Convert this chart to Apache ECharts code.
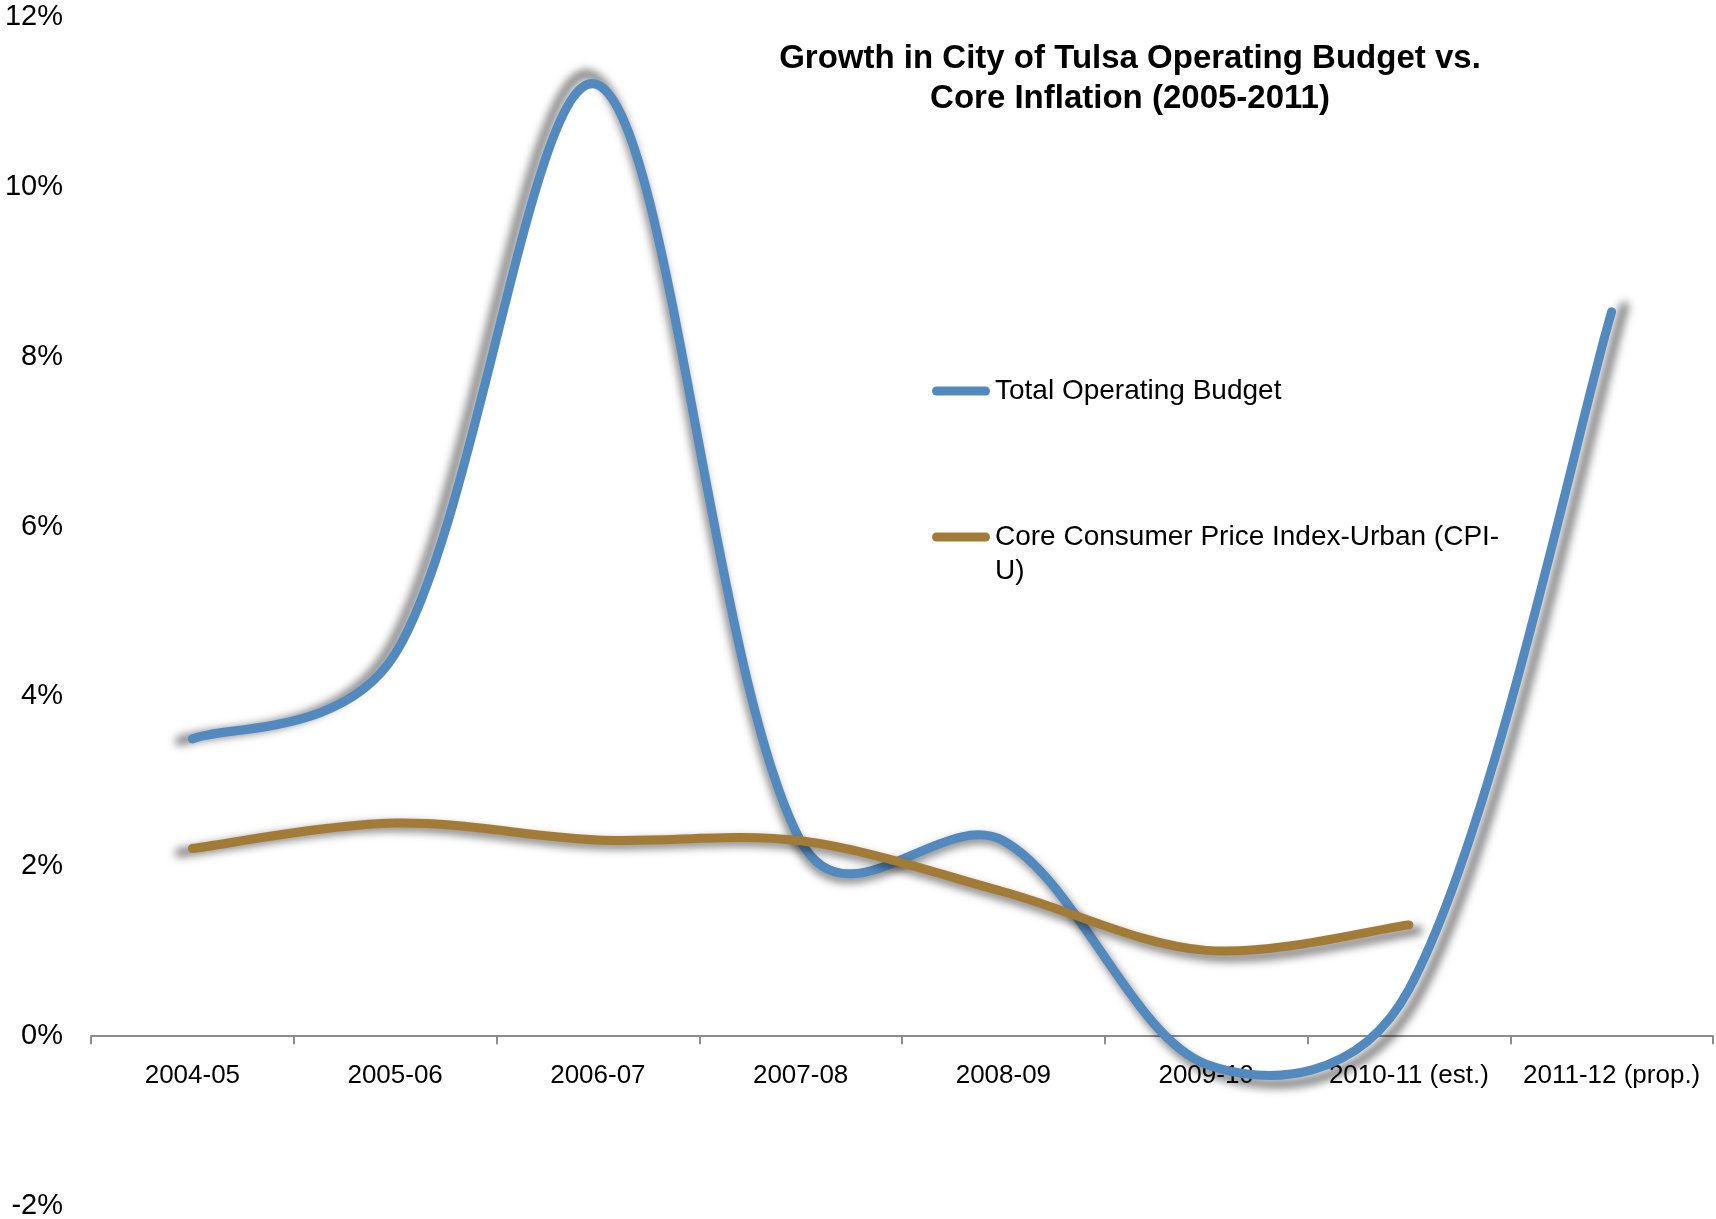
<!DOCTYPE html>
<html>
<head>
<meta charset="utf-8">
<script src="https://cdn.jsdelivr.net/npm/echarts@6/dist/echarts.min.js"></script>
<style>
html,body{margin:0;padding:0;background:#ffffff;}
#chart{width:1716px;height:1219px;}
</style>
</head>
<body>
<div id="chart"></div>
<script>
// ---- data ----
const categories = ['2004-05', '2005-06', '2006-07', '2007-08', '2008-09', '2009-10', '2010-11 (est.)', '2011-12 (prop.)'];
const budgetGrowth = [3.5, 4.5, 11.2, 2.3, 2.3, -0.33, 0.55, 8.53];
const coreCPI = [2.21, 2.51, 2.31, 2.3, 1.7, 1.01, 1.31, null];
const seriesNames = ['Total Operating Budget', 'Core Consumer Price Index-Urban (CPI-U)'];
const titleLines = ['Growth in City of Tulsa Operating Budget vs.', 'Core Inflation (2005-2011)'];
const yMin = -2, yMax = 12, yStep = 2;

const FONT = 'Liberation Sans, Arial, sans-serif';
const colors = ['#5289BE', '#A27B37'];
const capsule = 'path://M4.5,0H53.5A4.5,4.5,0,0,1,53.5,9H4.5A4.5,4.5,0,0,1,4.5,0Z';

function dist(a, b) { return Math.sqrt((a[0] - b[0]) * (a[0] - b[0]) + (a[1] - b[1]) * (a[1] - b[1])); }

// Excel-like smoothed curve: cubic Bezier with Catmull-Rom tangents,
// shortened where neighbouring segments differ in length.
function controlOffsets(pts) {
  const n = pts.length, out = [];
  for (let i = 0; i < n; i++) {
    const prev = pts[i - 1] || pts[i], next = pts[i + 1] || pts[i];
    const v = [(next[0] - prev[0]) / 6, (next[1] - prev[1]) / 6];
    let fIn = 1, fOut = 1;
    if (i > 0 && i < n - 1) {
      const d0 = dist(prev, pts[i]), d1 = dist(pts[i], next), s = d0 + d1;
      fIn = 0.5 + 0.5 * (2 * d0 / s);
      fOut = 0.5 + 0.5 * (2 * d1 / s);
    }
    out.push({ inn: [v[0] * fIn, v[1] * fIn], out: [v[0] * fOut, v[1] * fOut] });
  }
  return out;
}
function smoothPath(pts) {
  if (!pts.length) return '';
  const cps = controlOffsets(pts);
  let d = 'M' + pts[0][0] + ',' + pts[0][1];
  for (let i = 0; i < pts.length - 1; i++) {
    const p1 = pts[i], p2 = pts[i + 1];
    const c1 = [p1[0] + cps[i].out[0], p1[1] + cps[i].out[1]];
    const c2 = [p2[0] - cps[i + 1].inn[0], p2[1] - cps[i + 1].inn[1]];
    d += 'C' + c1[0] + ',' + c1[1] + ',' + c2[0] + ',' + c2[1] + ',' + p2[0] + ',' + p2[1];
  }
  return d;
}

function makeRenderItem(values, color) {
  return function (params, api) {
    if (params.dataIndex !== 0) return null;
    const pts = [];
    values.forEach(function (v, i) { if (v != null) pts.push(api.coord([i, v])); });
    const cs = params.coordSys;
    const cx = cs.x + cs.width / 2, cy = cs.y + cs.height / 2;
    const k = 1.018, OFF = 4000;
    const shadowPts = pts.map(function (p) { return [cx + (p[0] - cx) * k - OFF, cy + (p[1] - cy) * k]; });
    return {
      type: 'group',
      children: [
        {
          type: 'path', silent: true,
          shape: { pathData: smoothPath(shadowPts) },
          style: { fill: 'none', stroke: '#000', lineWidth: 9, lineCap: 'round', lineJoin: 'round',
                   shadowBlur: 9, shadowColor: 'rgba(0,0,0,0.5)', shadowOffsetX: OFF, shadowOffsetY: 0 }
        },
        {
          type: 'path', silent: true,
          shape: { pathData: smoothPath(pts) },
          style: { fill: 'none', stroke: color, lineWidth: 9, lineCap: 'round', lineJoin: 'round' }
        }
      ]
    };
  };
}

const chart = echarts.init(document.getElementById('chart'), null, { renderer: 'canvas' });
chart.setOption({
  backgroundColor: '#ffffff',
  animation: false,
  title: {
    text: titleLines.join('\n'),
    left: 1130, top: 39, textAlign: 'center', padding: 0,
    textStyle: { fontFamily: FONT, fontSize: 33, fontWeight: 'bold', color: '#000', lineHeight: 40 }
  },
  legend: [
    {
      data: [seriesNames[0]], orient: 'vertical', left: 932, top: 377, padding: 0,
      icon: capsule, itemWidth: 58, itemHeight: 9, selectedMode: false,
      textStyle: { fontFamily: FONT, fontSize: 28, color: '#000' }
    },
    {
      data: [seriesNames[1]], orient: 'vertical', left: 932, top: 486, padding: 0,
      icon: capsule, itemWidth: 58, itemHeight: 9, selectedMode: false,
      formatter: function (n) { return '\n' + n.replace('(CPI-U)', '(CPI-\nU)'); },
      textStyle: { fontFamily: FONT, fontSize: 28, color: '#000', lineHeight: 34 }
    }
  ],
  grid: { left: 91, right: 3, top: 17, bottom: 13, containLabel: false, outerBoundsMode: 'none' },
  xAxis: {
    type: 'category', data: categories, boundaryGap: true,
    axisLine: { show: true, onZero: true, lineStyle: { color: '#8c8c8c', width: 2 } },
    axisTick: { show: true, length: 8, lineStyle: { color: '#8c8c8c', width: 2 } },
    axisLabel: { fontFamily: FONT, fontSize: 26, color: '#000', margin: -143, interval: 0, hideOverlap: false },
    splitLine: { show: false }
  },
  yAxis: {
    type: 'value', min: yMin, max: yMax, interval: yStep,
    axisLine: { show: false }, axisTick: { show: false }, splitLine: { show: false },
    axisLabel: { fontFamily: FONT, fontSize: 29, color: '#000', margin: 28, formatter: '{value}%' }
  },
  series: [
    {
      name: seriesNames[0], type: 'custom', clip: false,
      itemStyle: { color: colors[0] },
      data: budgetGrowth.map(function (v, i) { return [i, v]; }),
      encode: { x: 0, y: 1 },
      renderItem: makeRenderItem(budgetGrowth, colors[0])
    },
    {
      name: seriesNames[1], type: 'custom', clip: false,
      itemStyle: { color: colors[1] },
      data: coreCPI.map(function (v, i) { return [i, v]; }),
      encode: { x: 0, y: 1 },
      renderItem: makeRenderItem(coreCPI, colors[1])
    }
  ]
});
</script>
</body>
</html>
